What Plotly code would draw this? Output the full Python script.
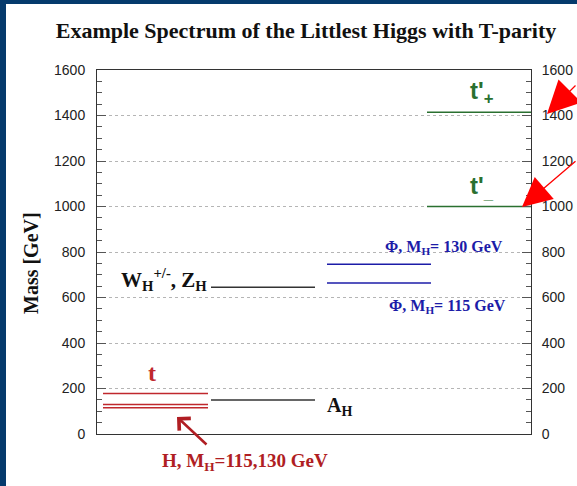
import plotly.graph_objects as go

# ---------------- data ----------------
level_names = ["t", "H (130)", "H (115)", "A_H", "W_H, Z_H", "Phi (130)", "Phi (115)", "t'+", "t'-"]
level_mass = [178, 130, 115, 150, 645, 746, 664, 1414, 1000]
level_color = ["#c0282d", "#c0282d", "#c0282d", "#333333", "#333333",
               "#1c1ca8", "#1c1ca8", "#2a7030", "#2a7030"]
level_col = [0, 0, 0, 1, 1, 2, 2, 3, 3]
col_start = [0.06, 1.14, 2.30, 3.30]
col_end = [1.11, 2.18, 3.34, 4.34]
x_range = [0, 4.34]
y_range = [0, 1600]
y_ticks = [0, 200, 400, 600, 800, 1000, 1200, 1400, 1600]

W, H = 577, 486
ML, MR, MT, MB = 97, 46, 70, 52
PW = W - ML - MR
PH = H - MT - MB

fig = go.Figure()
for name, m, c, col in zip(level_names, level_mass, level_color, level_col):
    fig.add_trace(go.Scatter(x=[col_start[col], col_end[col]], y=[m, m], mode="lines",
                             line=dict(color=c, width=1.5), name=name,
                             showlegend=False, hoverinfo="skip"))
# invisible trace for right axis
fig.add_trace(go.Scatter(x=[None], y=[None], yaxis="y2", showlegend=False))

serif = "Liberation Serif"
sans = "Liberation Sans"


def px(xp):
    return (xp - ML) / PW


def py(yp):
    return (H - MB - yp) / PH


ann = []
ann.append(dict(x=0.55, y=268, text="<b>t</b>", showarrow=False,
                font=dict(family=serif, size=24, color="#c0282d")))
ann.append(dict(x=col_start[1] - 0.02, y=680, xanchor="right",
                text="<b>W<sub>H</sub><sup>+/-</sup>, Z<sub>H</sub></b>", showarrow=False,
                font=dict(family=serif, size=21, color="#111111")))
ann.append(dict(x=col_end[1] + 0.1, y=122, xanchor="left",
                text="<b>A<sub>H</sub></b>", showarrow=False,
                font=dict(family=serif, size=20, color="#111111")))
ann.append(dict(x=3.47, y=822, text="<b>Φ, M<sub>H</sub>= 130 GeV</b>", showarrow=False,
                font=dict(family=serif, size=16, color="#1c1ca8")))
ann.append(dict(x=3.50, y=560, text="<b>Φ, M<sub>H</sub>= 115 GeV</b>", showarrow=False,
                font=dict(family=serif, size=16, color="#1c1ca8")))
ann.append(dict(x=3.85, y=1500, text="<b>t'<sub>+</sub></b>", showarrow=False,
                font=dict(family=sans, size=24, color="#2a7030")))
ann.append(dict(x=3.85, y=1085, text="<b>t'<sub>_</sub></b>", showarrow=False,
                font=dict(family=sans, size=24, color="#2a7030")))
for a in ann:
    a.setdefault("xref", "x")
    a.setdefault("yref", "y")
# labels / arrows outside the plotting range: paper coordinates
ann.append(dict(xref="paper", yref="paper", x=px(245), y=py(462), xanchor="center",
                yanchor="middle", text="<b>H, M<sub>H</sub>=115,130 GeV</b>", showarrow=False,
                font=dict(family=serif, size=19, color="#b01e23")))
ann.append(dict(xref="x", yref="y", x=0.80, y=75, ax=31, ay=29, text="", showarrow=True,
                arrowhead=4, arrowsize=1.3, arrowwidth=2.5, arrowcolor="#b01e23"))
ann.append(dict(xref="paper", yref="paper", x=px(547), y=py(114), ax=70, ay=-30, text="",
                showarrow=True, arrowhead=2, arrowsize=5, arrowwidth=1.3,
                arrowcolor="#ff0000"))
ann.append(dict(xref="paper", yref="paper", x=px(522), y=py(207), ax=75, ay=-47, text="",
                showarrow=True, arrowhead=2, arrowsize=4.5, arrowwidth=1.3,
                arrowcolor="#ff0000"))
# y axis title
ann.append(dict(xref="paper", yref="paper", x=px(31), y=py(263), xanchor="center",
                yanchor="middle", text="<b>Mass [GeV]</b>", textangle=-90, showarrow=False,
                font=dict(family=serif, size=20, color="#111111")))

axis_common = dict(range=y_range, tickvals=y_ticks, ticks="inside", ticklen=9,
                   tickcolor="#555555", tickwidth=1,
                   tickfont=dict(family=sans, size=14, color="#222222"),
                   showline=True, linecolor="#333333", linewidth=1,
                   minor=dict(dtick=50, ticks="inside", ticklen=5, tickcolor="#555555",
                              showgrid=False),
                   zeroline=False, fixedrange=True, automargin=False)

fig.update_layout(
    width=W, height=H,
    margin=dict(l=ML, r=MR, t=MT, b=MB, autoexpand=False),
    paper_bgcolor="white", plot_bgcolor="white",
    title=dict(text="<b>Example Spectrum of the Littlest Higgs with T-parity</b>",
               x=306 / W, xanchor="center", y=1 - 30 / H, yanchor="middle",
               font=dict(family=serif, size=22, color="#111111")),
    xaxis=dict(range=x_range, showticklabels=False, ticks="", showgrid=False,
               zeroline=False, showline=True, mirror=True, linecolor="#333333",
               linewidth=1, automargin=False),
    yaxis=dict(**axis_common, showgrid=True, gridcolor="#b5b5b5", griddash="3px,3px",
               gridwidth=1, ticklabelstandoff=8),
    yaxis2=dict(**axis_common, overlaying="y", side="right", showgrid=False,
                ticklabelstandoff=7),
    annotations=ann,
    shapes=[
        dict(type="rect", xref="paper", yref="paper", x0=-ML / PW, x1=(6 - ML) / PW,
             y0=-MB / PH, y1=1 + MT / PH, fillcolor="#053a6c", line=dict(width=0),
             layer="above"),
        dict(type="rect", xref="paper", yref="paper", x0=-ML / PW, x1=1 + MR / PW,
             y0=1 + (MT - 4) / PH, y1=1 + MT / PH, fillcolor="#053a6c", line=dict(width=0),
             layer="above"),
    ],
)

fig.write_html("out.html")
